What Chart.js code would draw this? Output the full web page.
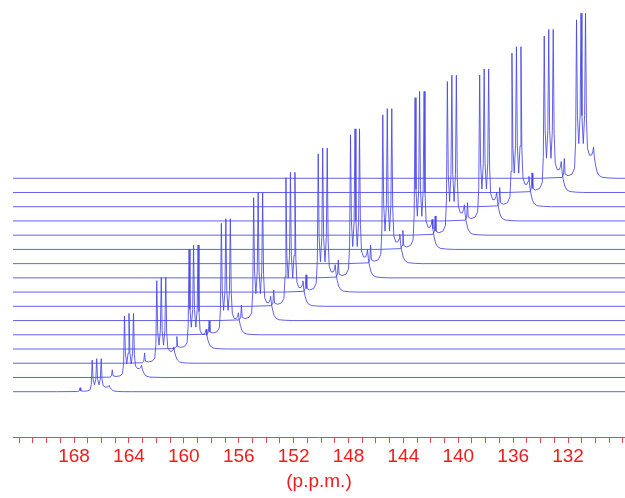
<!DOCTYPE html>
<html><head><meta charset="utf-8">
<script src="https://cdn.jsdelivr.net/npm/chart.js@4/dist/chart.umd.min.js"></script>
<style>html,body{margin:0;padding:0;background:#fff}</style>
</head><body>
<canvas id="c" width="625" height="498"></canvas>
<script>
// ---- data ----
// labelled ppm ticks
const ppmTickLabels = [168, 164, 160, 156, 152, 148, 144, 140, 136, 132];
const axisTitle = '(p.p.m.)';
// spectra, front (bottom) = 0 ... back (top) = 15
const traceIndex = [0,1,2,3,4,5,6,7,8,9,10,11,12,13,14,15];
// height of the tallest triplet line of each spectrum (plot units)
const peakHeights = [33, 64, 86, 104, 116, 128, 134, 144, 149, 155, 158, 160, 152, 160, 163, 165];
// line shape: offset from triplet centre (ppm), relative intensity
const shapeOffsets = [2.92, 1.385, 1.275, 1.217, 1.159, 0.948, 0.656, 0.474, 0.394, 0.328, 0.262, 0.164, 0.066, 0, -0.066, -0.164, -0.262, -0.328, -0.394, -0.474, -0.62, -0.766, -0.861, -0.912, -0.970, -1.058, -1.167, -1.313, -1.532, -1.97, -2.55];
const shapeIntensity = [0, 0.005, 0.025, 0.12, 0.025, 0.015, 0.025, 0.06, 0.22, 0.96, 0.38, 0.21, 0.38, 1.0, 0.38, 0.21, 0.38, 1.0, 0.36, 0.18, 0.14, 0.14, 0.16, 0.19, 0.13, 0.08, 0.04, 0.017, 0.006, 0.002, 0];

// ---- layout of the stacked plot ----
const X_LEFT = 172.45, X_RIGHT = 127.85;   // visible ppm window
const FIRST_CENTRE = 166.35;               // triplet centre of front spectrum
const SKEW_PPM = 2.353;                    // horizontal shift per spectrum
const BASE0 = 45.3, BASE_STEP = 14.23;     // vertical stacking

const datasets = traceIndex.map((i, k) => {
  const base = BASE0 + BASE_STEP * i;
  const centre = FIRST_CENTRE - SKEW_PPM * i;
  const pts = [{x: X_LEFT, y: base}];
  shapeOffsets.forEach((o, j) => pts.push({x: centre + o, y: base + peakHeights[k] * shapeIntensity[j]}));
  pts.push({x: X_RIGHT, y: base});
  return {
    data: pts, borderColor: 'rgba(70,70,230,0.85)', borderWidth: 1,
    pointRadius: 0, tension: 0, fill: false
  };
});

const red = '#f01c1c';
new Chart(document.getElementById('c'), {
  type: 'line',
  data: {datasets},
  options: {
    responsive: false, animation: false, parsing: false,
    layout: {padding: {left: 13, right: 0, top: 0, bottom: 0}},
    plugins: {legend: {display: false}, tooltip: {enabled: false}},
    scales: {
      x: {
        type: 'linear', reverse: true, min: X_RIGHT, max: X_LEFT,
        afterFit: s => { s.height = 61; },
        border: {display: true, color: 'rgb(235,70,70)', width: 1},
        grid: {display: true, drawOnChartArea: false, drawTicks: true, tickLength: 6, color: 'rgb(235,70,70)'},
        ticks: {
          stepSize: 1, includeBounds: false, autoSkip: false, maxRotation: 0, padding: 2,
          color: red, font: {family: 'Liberation Sans, Arial, sans-serif', size: 19},
          callback: v => ppmTickLabels.includes(v) ? String(v) : ''
        },
        title: {display: true, text: axisTitle, color: red,
          font: {family: 'Liberation Sans, Arial, sans-serif', size: 19}, padding: {top: 0, bottom: 5}}
      },
      y: {type: 'linear', display: false, min: 0, max: 437}
    }
  }
});
</script>
</body></html>
